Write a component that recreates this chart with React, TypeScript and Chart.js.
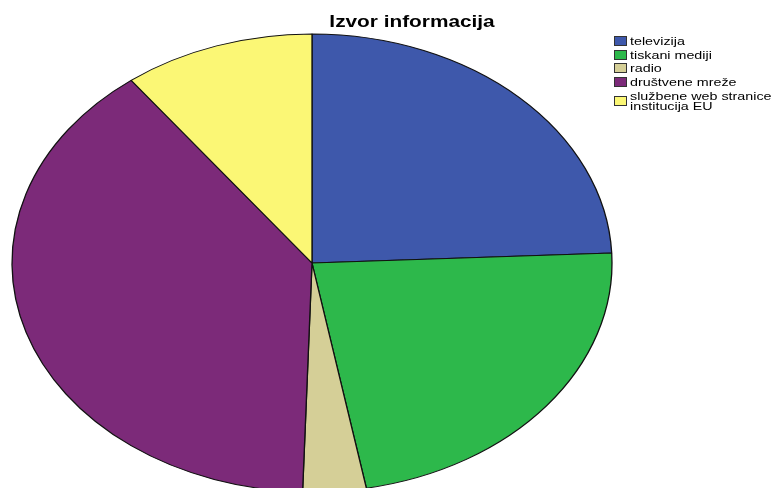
import React, { useEffect, useRef } from "react";
import { Chart, registerables } from "chart.js";

Chart.register(...registerables);

const title = "Izvor informacija";
const categories = [
  "televizija",
  "tiskani mediji",
  "radio",
  "društvene mreže",
  "službene web stranice\ninstitucija EU",
];
const values = [24.3, 22.8, 3.4, 39.2, 10.3];
const colors = ["#3e58ab", "#2db84b", "#d5cf97", "#7c2a79", "#fbf775"];

const SX = 300 / 229;

const stretchPlugin = {
  id: "stretch",
  beforeDatasetsDraw(chart: any) {
    const ctx = chart.ctx;
    const arc = chart.getDatasetMeta(0).data[0];
    const cx = arc ? arc.x : 312;
    ctx.save();
    ctx.translate(cx, 0);
    ctx.scale(SX, 1);
    ctx.translate(-cx, 0);
  },
  afterDatasetsDraw(chart: any) {
    chart.ctx.restore();
  },
};

const legendTops = [35, 49, 62, 76, 91];

export default function App() {
  const ref = useRef<HTMLCanvasElement | null>(null);

  useEffect(() => {
    if (!ref.current) return;
    const chart = new Chart(ref.current, {
      type: "pie",
      data: {
        labels: categories.map((c) => c.replace("\n", " ")),
        datasets: [
          {
            data: values,
            backgroundColor: colors,
            borderColor: "#111",
            borderWidth: 1,
          },
        ],
      },
      options: {
        responsive: false,
        animation: false,
        radius: 229,
        layout: { padding: { left: 82, right: 234, top: 34, bottom: 8 } },
        plugins: {
          legend: { display: false },
          title: { display: false },
          tooltip: { enabled: false },
        },
      } as any,
      plugins: [stretchPlugin],
    });
    return () => chart.destroy();
  }, []);

  return (
    <div
      style={{
        position: "fixed",
        left: 0,
        top: 0,
        width: 776,
        height: 488,
        overflow: "hidden",
        background: "#fff",
        fontFamily: "'Liberation Sans', Arial, sans-serif",
      }}
    >
      <canvas
        ref={ref}
        width={776}
        height={500}
        style={{ position: "absolute", left: 0, top: 0, width: 776, height: 500 }}
      />
      <div
        style={{
          position: "absolute",
          left: 411.5,
          top: 14,
          transform: "translateX(-50%) scaleX(1.3)",
          fontSize: 16,
          lineHeight: "16px",
          fontWeight: "bold",
          whiteSpace: "nowrap",
          color: "#000",
        }}
      >
        {title}
      </div>
      {categories.map((c, i) => {
        const multi = c.includes("\n");
        const top = legendTops[i];
        return (
          <div key={c} style={{ position: "absolute", left: 0, top: 0 }}>
            <div
              style={{
                position: "absolute",
                left: 614,
                top: multi ? top + 5 : top + 1,
                width: 13,
                height: 10,
                boxSizing: "border-box",
                border: "1px solid #333",
                background: colors[i],
              }}
            />
            <div
              style={{
                position: "absolute",
                left: 630,
                top: multi ? top - 0.5 : top,
                transform: "scaleX(1.3)",
                transformOrigin: "left top",
                fontSize: 11,
                lineHeight: multi ? "10px" : "12px",
                whiteSpace: "pre",
                color: "#000",
              }}
            >
              {c}
            </div>
          </div>
        );
      })}
    </div>
  );
}
